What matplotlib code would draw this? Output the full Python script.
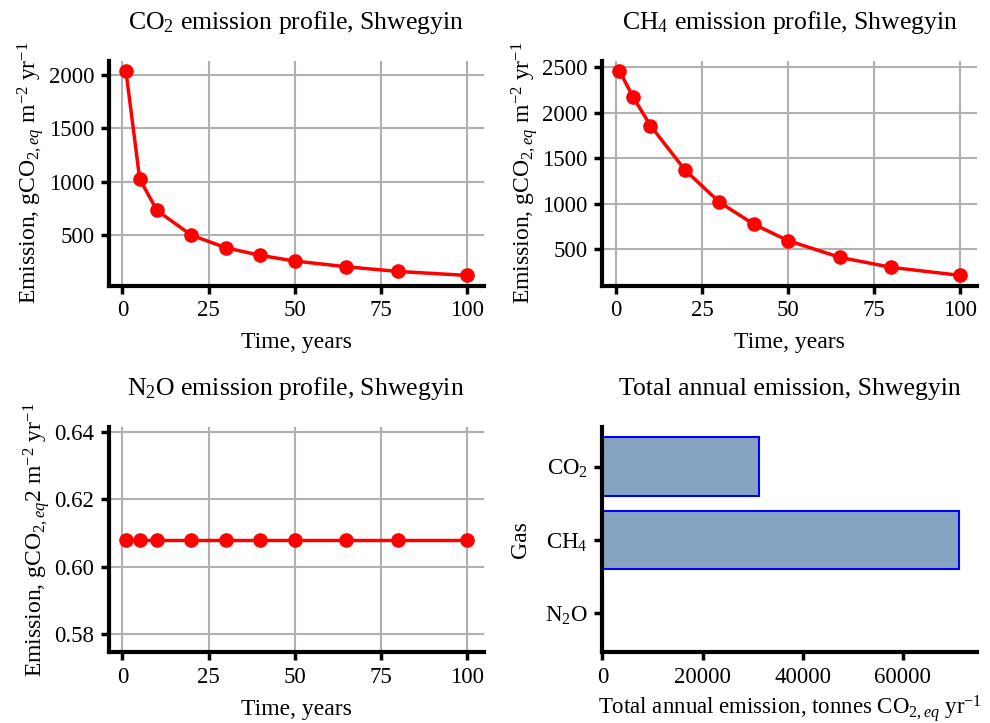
import matplotlib
matplotlib.use("Agg")
import matplotlib.pyplot as plt

# ---- data ----
years = [1, 5, 10, 20, 30, 40, 50, 65, 80, 100]
co2_profile = [2038, 1025, 730, 497, 380, 308, 255, 201, 157, 120]
ch4_profile = [2456, 2169, 1857, 1372, 1018, 776, 595, 412, 302, 214]
n2o_profile = [0.608, 0.608, 0.608, 0.608, 0.608, 0.608, 0.608, 0.608, 0.608, 0.608]
co2_yticks = [500, 1000, 1500, 2000]
ch4_yticks = [500, 1000, 1500, 2000, 2500]
n2o_yticks = [0.58, 0.60, 0.62, 0.64]
time_ticks = [0, 25, 50, 75, 100]
gases = ["CO$_2$", "CH$_4$", "N$_2$O"]
totals = [31340, 71260, 60]
total_ticks = [0, 20000, 40000, 60000]

plt.rcParams.update({
    "font.family": ["Liberation Serif", "DejaVu Serif"],
    "mathtext.fontset": "custom",
    "mathtext.rm": "Liberation Serif",
    "mathtext.it": "Liberation Serif:italic",
    "mathtext.bf": "Liberation Serif:bold",
    "font.size": 16,
    "axes.titlesize": 18.5,
    "axes.labelsize": 17,
    "xtick.labelsize": 16.5,
    "ytick.labelsize": 16.5,
})

fig, axs = plt.subplots(2, 2, figsize=(9.9, 7.23), dpi=100)
fig.subplots_adjust(left=0.110, right=0.987, top=0.916, bottom=0.098,
                    wspace=0.317, hspace=0.63)

def style(ax, grid=True):
    for s in ["top", "right"]:
        ax.spines[s].set_visible(False)
    for s in ["left", "bottom"]:
        ax.spines[s].set_linewidth(3)
    ax.tick_params(axis="both", direction="out", length=5.5, width=2.5, pad=5)
    if grid:
        ax.grid(True, color="#b0b0b0", linewidth=1.5)
        ax.set_axisbelow(True)

ylab = r"Emission, gCO$_{2,\mathit{eq}}$ m$^{-2}$ yr$^{-1}$"
ylab_n2o = r"Emission, gCO$_{2,\mathit{eq}}$2 m$^{-2}$ yr$^{-1}$"

panels = [
    (axs[0, 0], co2_profile, "CO$_2$ emission profile, Shwegyin", ylab, co2_yticks, None),
    (axs[0, 1], ch4_profile, "CH$_4$ emission profile, Shwegyin", ylab, ch4_yticks, None),
    (axs[1, 0], n2o_profile, "N$_2$O emission profile, Shwegyin", ylab_n2o, n2o_yticks,
     ["%.2f" % v for v in n2o_yticks]),
]
for ax, vals, title, yl, yt, ytl in panels:
    ax.plot(years, vals, color="red", linewidth=2.5, marker="o", markersize=9.5)
    ax.set_title(title, pad=23)
    ax.set_xlabel("Time, years", labelpad=8)
    ax.set_ylabel(yl, labelpad=2)
    ax.set_xticks(time_ticks)
    ax.set_yticks(yt)
    if ytl is not None:
        ax.set_yticklabels(ytl)
    style(ax)

ax = axs[1, 1]
ypos = list(range(len(gases)))
ax.barh(ypos, totals, height=0.8, color="#86a4c2", edgecolor="blue", linewidth=1.5)
ax.set_yticks(ypos)
ax.set_yticklabels(gases)
ax.invert_yaxis()
ax.set_xticks(total_ticks)
ax.set_title("Total annual emission, Shwegyin", pad=23)
ax.set_xlabel(r"Total annual emission, tonnes CO$_{2,\mathit{eq}}$ yr$^{-1}$",
              labelpad=4, fontsize=16.5)
ax.set_ylabel("Gas", labelpad=10)
style(ax, grid=False)

fig.savefig("out.png", dpi=100)
